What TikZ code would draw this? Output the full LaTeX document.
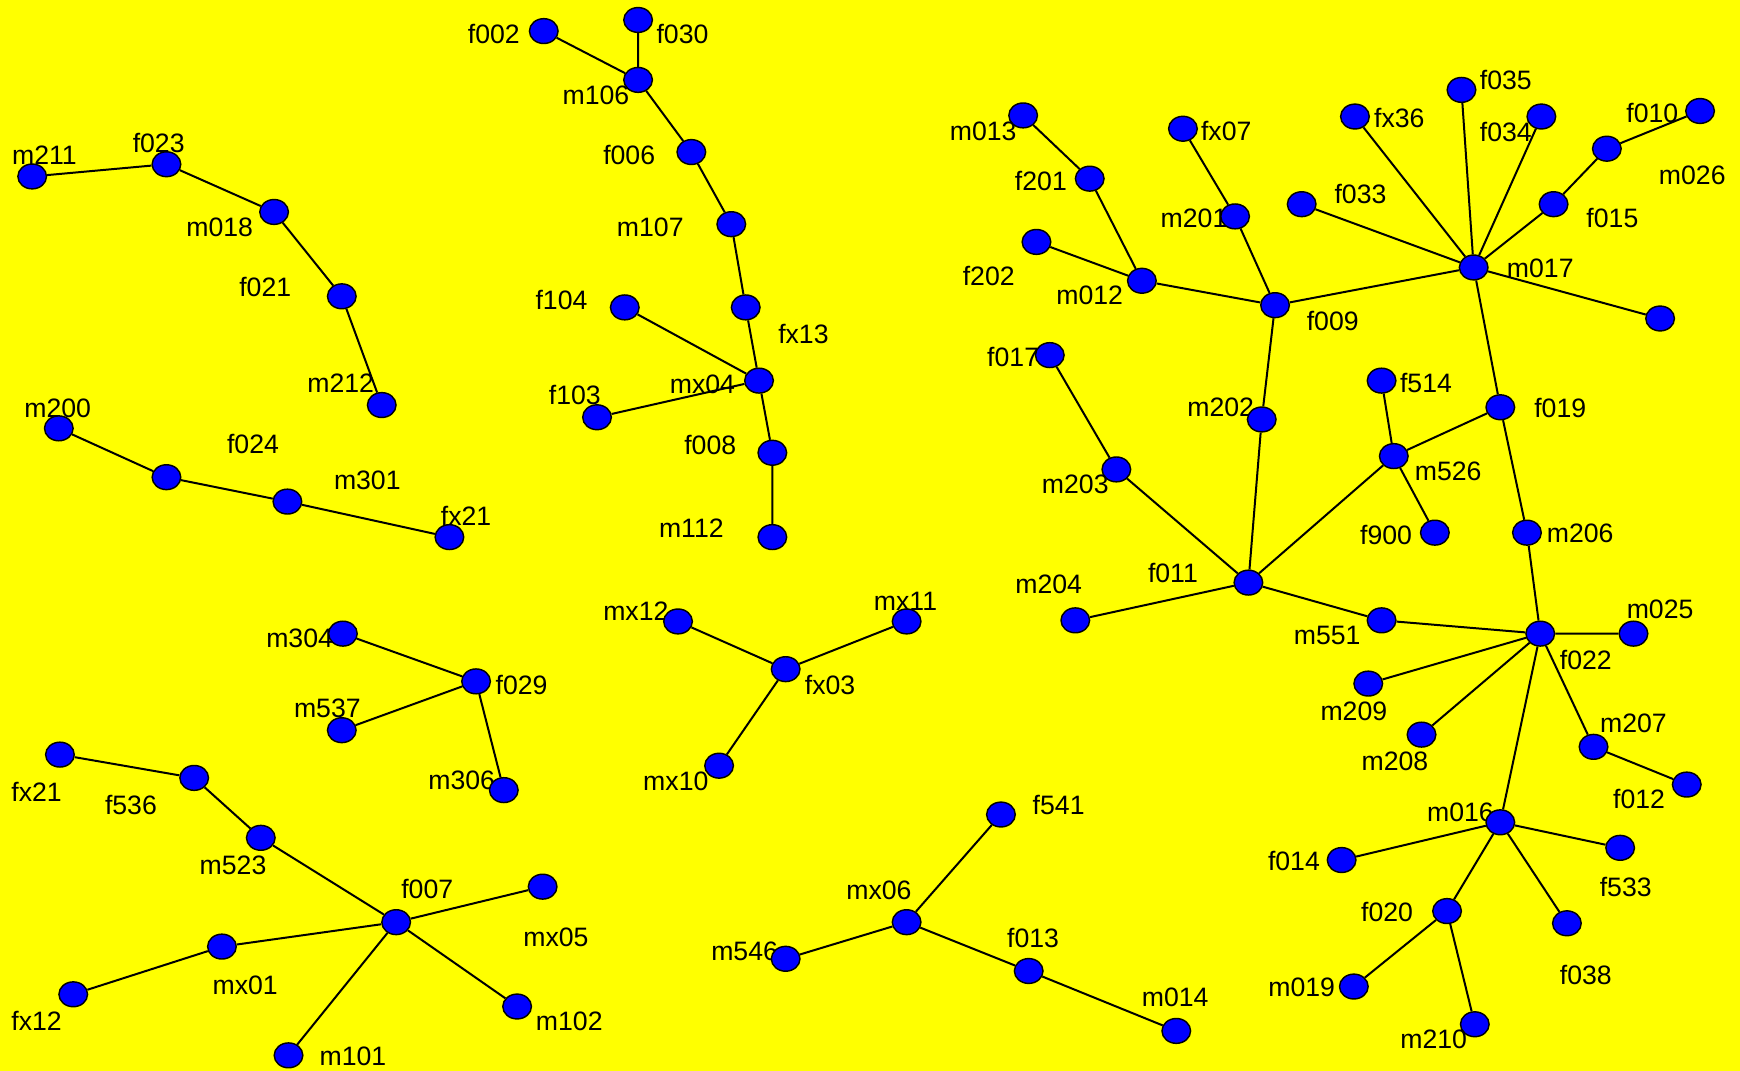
\documentclass[tikz,border=0pt]{standalone}
\usepackage{fontspec}
\setmainfont{Liberation Sans}
\usetikzlibrary{shapes.geometric,backgrounds}
\definecolor{bgyel}{RGB}{255,255,0}
\definecolor{nblue}{RGB}{0,0,255}
\begin{document}
\begin{tikzpicture}[x=0.5pt,y=-0.5pt,
  v/.style={ellipse,draw=black,line width=0.65pt,fill=nblue,inner sep=0pt,minimum width=12.9pt,minimum height=11.2pt},
  lab/.style={inner sep=0pt,font=\fontsize{12}{14}\selectfont},
  edge/.style={draw=black,line width=0.9pt}]
\useasboundingbox (0,0) rectangle (1568,965);
% component A
\node[v] (m211) at (29,159) {};
\node[v] (f023) at (150,148) {};
\node[v] (m018) at (247,191) {};
\node[v] (f021) at (308,267) {};
\node[v] (m212) at (344,365) {};
% component B
\node[v] (m200) at (53,386) {};
\node[v] (f024) at (150,430) {};
\node[v] (m301) at (259,452) {};
\node[v] (fx21a) at (405,484) {};
% component C
\node[v] (m304) at (309,571) {};
\node[v] (f029) at (429,614) {};
\node[v] (m537) at (308,658) {};
\node[v] (m306) at (454,712) {};
% component D
\node[v] (fx21b) at (54,680) {};
\node[v] (f536) at (175,701) {};
\node[v] (m523) at (235,755) {};
\node[v] (f007) at (357,831) {};
\node[v] (mx05) at (489,799) {};
\node[v] (mx01) at (200,853) {};
\node[v] (fx12) at (66,896) {};
\node[v] (m101) at (260,951) {};
\node[v] (m102) at (466,907) {};
% component E
\node[v] (f002) at (490,28) {};
\node[v] (f030) at (575,18) {};
\node[v] (m106) at (575,72) {};
\node[v] (f006) at (623,137) {};
\node[v] (m107) at (659,202) {};
\node[v] (fx13) at (672,277) {};
\node[v] (f104) at (563,277) {};
\node[v] (mx04) at (684,343) {};
\node[v] (f103) at (538,376) {};
\node[v] (f008) at (696,408) {};
\node[v] (m112) at (696,484) {};
% component F
\node[v] (mx12) at (611,560) {};
\node[v] (mx11) at (817,560) {};
\node[v] (fx03) at (708,603) {};
\node[v] (mx10) at (648,690) {};
% component G
\node[v] (f541) at (902,734) {};
\node[v] (mx06) at (817,831) {};
\node[v] (m546) at (708,864) {};
\node[v] (f013) at (927,875) {};
\node[v] (m014) at (1060,929) {};
% big component
\node[v] (m013) at (922,104) {};
\node[v] (f201) at (982,161) {};
\node[v] (f202) at (934,218) {};
\node[v] (m012) at (1029,253) {};
\node[v] (fx07) at (1066,116) {};
\node[v] (m201) at (1113,195) {};
\node[v] (f009) at (1149,275) {};
\node[v] (m017) at (1328,241) {};
\node[v] (fx36) at (1221,105) {};
\node[v] (f035) at (1317,81) {};
\node[v] (f034) at (1389,105) {};
\node[v] (f010) at (1532,100) {};
\node[v] (m026) at (1448,134) {};
\node[v] (f015) at (1400,184) {};
\node[v] (f033) at (1173,184) {};
\node[v] (unl) at (1496,287) {};
\node[v] (f019) at (1352,367) {};
\node[v] (m202) at (1137,378) {};
\node[v] (f017) at (946,320) {};
\node[v] (m203) at (1006,423) {};
\node[v] (f514) at (1245,343) {};
\node[v] (m526) at (1256,411) {};
\node[v] (f900) at (1293,480) {};
\node[v] (f011) at (1125,525) {};
\node[v] (m204) at (969,559) {};
\node[v] (m551) at (1245,559) {};
\node[v] (m206) at (1376,480) {};
\node[v] (f022) at (1388,571) {};
\node[v] (m025) at (1472,571) {};
\node[v] (m209) at (1233,616) {};
\node[v] (m208) at (1281,662) {};
\node[v] (m207) at (1436,673) {};
\node[v] (f012) at (1520,707) {};
\node[v] (m016) at (1352,741) {};
\node[v] (f014) at (1209,775) {};
\node[v] (f533) at (1460,764) {};
\node[v] (f020) at (1304,821) {};
\node[v] (f038) at (1412,832) {};
\node[v] (m019) at (1220,889) {};
\node[v] (m210) at (1329,923) {};
\begin{scope}[on background layer]
\fill[bgyel] (0,0) rectangle (1568,965);
% labels
\node[lab] (lm211) at (40,140) {m211};
\node[lab] (lf023) at (143,129) {f023};
\node[lab] (lm018) at (198,205) {m018};
\node[lab] (lf021) at (239,259) {f021};
\node[lab] (lm212) at (307,345) {m212};
\node[lab] (lm200) at (52,368) {m200};
\node[lab] (lf024) at (228,400) {f024};
\node[lab] (lm301) at (331,433) {m301};
\node[lab] (lfx21a) at (420,465) {fx21};
\node[lab] (lm304) at (270,575) {m304};
\node[lab] (lf029) at (470,617) {f029};
\node[lab] (lm537) at (295,638) {m537};
\node[lab] (lm306) at (416,703) {m306};
\node[lab] (lfx21b) at (33,714) {fx21};
\node[lab] (lf536) at (118,725) {f536};
\node[lab] (lm523) at (210,780) {m523};
\node[lab] (lf007) at (385,801) {f007};
\node[lab] (lmx05) at (501,845) {mx05};
\node[lab] (lmx01) at (221,888) {mx01};
\node[lab] (lfx12) at (33,920) {fx12};
\node[lab] (lm101) at (318,952) {m101};
\node[lab] (lm102) at (513,920) {m102};
\node[lab] (lf002) at (445,31) {f002};
\node[lab] (lf030) at (615,31) {f030};
\node[lab] (lm106) at (537,86) {m106};
\node[lab] (lf006) at (567,140) {f006};
\node[lab] (lm107) at (586,205) {m107};
\node[lab] (lfx13) at (724,301) {fx13};
\node[lab] (lf104) at (506,270) {f104};
\node[lab] (lmx04) at (633,346) {mx04};
\node[lab] (lf103) at (518,356) {f103};
\node[lab] (lf008) at (640,401) {f008};
\node[lab] (lm112) at (623,476) {m112};
\node[lab] (lmx12) at (573,551) {mx12};
\node[lab] (lmx11) at (816,542) {mx11};
\node[lab] (lfx03) at (748,617) {fx03};
\node[lab] (lmx10) at (609,704) {mx10};
\node[lab] (lf541) at (954,725) {f541};
\node[lab] (lmx06) at (792,802) {mx06};
\node[lab] (lm546) at (671,857) {m546};
\node[lab] (lf013) at (931,845) {f013};
\node[lab] (lm014) at (1059,899) {m014};
\node[lab] (lm013) at (886,118) {m013};
\node[lab] (lf201) at (938,163) {f201};
\node[lab] (lf202) at (891,249) {f202};
\node[lab] (lm012) at (982,266) {m012};
\node[lab] (lfx07) at (1105,118) {fx07};
\node[lab] (lm201) at (1076,197) {m201};
\node[lab] (lf009) at (1201,289) {f009};
\node[lab] (lm017) at (1388,242) {m017};
\node[lab] (lfx36) at (1261,106) {fx36};
\node[lab] (lf035) at (1357,72) {f035};
\node[lab] (lf034) at (1357,119) {f034};
\node[lab] (lf010) at (1489,102) {f010};
\node[lab] (lm026) at (1525,158) {m026};
\node[lab] (lf015) at (1453,196) {f015};
\node[lab] (lf033) at (1226,175) {f033};
\node[lab] (lf019) at (1406,368) {f019};
\node[lab] (lm202) at (1100,367) {m202};
\node[lab] (lf017) at (913,322) {f017};
\node[lab] (lm203) at (969,436) {m203};
\node[lab] (lf514) at (1285,345) {f514};
\node[lab] (lm526) at (1305,425) {m526};
\node[lab] (lf900) at (1249,482) {f900};
\node[lab] (lf011) at (1057,516) {f011};
\node[lab] (lm204) at (945,527) {m204};
\node[lab] (lm551) at (1196,573) {m551};
\node[lab] (lm206) at (1424,481) {m206};
\node[lab] (lf022) at (1429,595) {f022};
\node[lab] (lm025) at (1496,549) {m025};
\node[lab] (lm209) at (1220,641) {m209};
\node[lab] (lm208) at (1257,686) {m208};
\node[lab] (lm207) at (1472,652) {m207};
\node[lab] (lf012) at (1477,720) {f012};
\node[lab] (lm016) at (1316,732) {m016};
\node[lab] (lf014) at (1166,776) {f014};
\node[lab] (lf533) at (1465,799) {f533};
\node[lab] (lf020) at (1250,822) {f020};
\node[lab] (lf038) at (1429,879) {f038};
\node[lab] (lm019) at (1173,890) {m019};
\node[lab] (lm210) at (1292,937) {m210};
% edges
\path[edge] (m211)--(f023) (f023)--(m018) (m018)--(f021) (f021)--(m212);
\path[edge] (m200)--(f024) (f024)--(m301) (m301)--(fx21a);
\path[edge] (m304)--(f029) (m537)--(f029) (f029)--(m306);
\path[edge] (fx21b)--(f536) (f536)--(m523) (m523)--(f007) (f007)--(mx05)
  (f007)--(mx01) (mx01)--(fx12) (f007)--(m101) (f007)--(m102);
\path[edge] (f002)--(m106) (f030)--(m106) (m106)--(f006) (f006)--(m107)
  (m107)--(fx13) (fx13)--(mx04) (f104)--(mx04) (f103)--(mx04) (mx04)--(f008) (f008)--(m112);
\path[edge] (mx12)--(fx03) (mx11)--(fx03) (fx03)--(mx10);
\path[edge] (f541)--(mx06) (mx06)--(m546) (mx06)--(f013) (f013)--(m014);
\path[edge] (m013)--(f201) (f201)--(m012) (f202)--(m012) (m012)--(f009)
  (fx07)--(m201) (m201)--(f009) (f009)--(m017)
  (fx36)--(m017) (f035)--(m017) (f034)--(m017) (f015)--(m017) (f015)--(m026) (m026)--(f010)
  (f033)--(m017) (m017)--(unl) (m017)--(f019)
  (f009)--(m202) (m202)--(f011) (f017)--(m203) (m203)--(f011)
  (f011)--(m526) (f019)--(m526) (f514)--(m526) (m526)--(f900)
  (f011)--(m204) (f011)--(m551) (m551)--(f022) (f019)--(m206) (m206)--(f022)
  (f022)--(m025) (f022)--(m209) (f022)--(m208) (f022)--(m207) (m207)--(f012)
  (f022)--(m016) (m016)--(f014) (m016)--(f533) (m016)--(f020) (m016)--(f038)
  (f020)--(m019) (f020)--(m210);
\end{scope}
\end{tikzpicture}
\end{document}
